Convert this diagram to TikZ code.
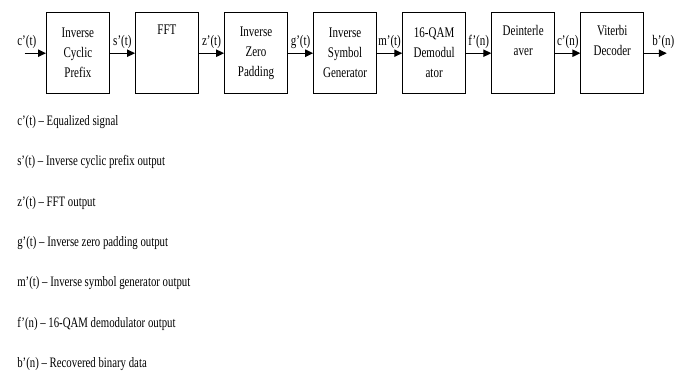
\documentclass[tikz,border=0pt]{standalone}
\usepackage{fontspec}
\setmainfont{Liberation Serif}[FakeStretch=0.75]
\usetikzlibrary{arrows.meta, positioning}

\begin{document}
\begin{tikzpicture}[
    x=0.75pt, y=-0.75pt,
    node distance=19pt,
    box/.style={rectangle, draw, line width=0.8pt, minimum width=47pt, minimum height=61pt, inner sep=1pt, align=center, font=\fontsize{11}{15}\selectfont},
    arrow/.style={-{Triangle[length=6pt, width=5.5pt]}, line width=0.9pt},
    sig/.style={above=3pt, font=\fontsize{11}{13}\selectfont, inner sep=0pt},
    note/.style={anchor=west, font=\fontsize{10.8}{12}\selectfont, inner sep=0pt}
]
    \useasboundingbox (0,0) rectangle (686,374);

    % receiver chain
    \node[box, anchor=north west] (icp) at (46,12) {Inverse\\Cyclic\\Prefix};
    \node[box, right=of icp] (fft) {FFT\\\strut\\\strut};
    \node[box, right=of fft] (izp) {Inverse\\Zero\\Padding};
    \node[box, right=of izp] (isg) {Inverse\\Symbol\\Generator};
    \node[box, right=of isg] (demod) {16-QAM\\Demodul\\ator};
    \node[box, right=of demod] (deint) {Deinterle\\aver\\\strut};
    \node[box, right=of deint] (vit) {Viterbi\\Decoder\\\strut};

    % in and out
    \coordinate[left=16pt of icp] (in);
    \coordinate[right=17pt of vit] (out);

    % arrows
    \draw[arrow] (in) -- node[sig, pos=0.1] {c'(t)} (icp);
    \draw[arrow] (icp) -- node[sig] {s'(t)} (fft);
    \draw[arrow] (fft) -- node[sig] {z'(t)} (izp);
    \draw[arrow] (izp) -- node[sig] {g'(t)} (isg);
    \draw[arrow] (isg) -- node[sig] {m'(t)} (demod);
    \draw[arrow] (demod) -- node[sig] {f'(n)} (deint);
    \draw[arrow] (deint) -- node[sig] {c'(n)} (vit);
    \draw[arrow] (vit) -- node[sig, pos=0.85] {b'(n)} (out);

    % legend
    \foreach \sym/\desc [count=\i from 0] in {c'(t)/Equalized signal, s'(t)/Inverse cyclic prefix output, z'(t)/FFT output, g'(t)/Inverse zero padding output, m'(t)/Inverse symbol generator output, f'(n)/16-QAM demodulator output, b'(n)/Recovered binary data}
        \node[note] (note\i) at (17, {122+40.3*\i}) {\sym{} -- \desc};
\end{tikzpicture}
\end{document}
